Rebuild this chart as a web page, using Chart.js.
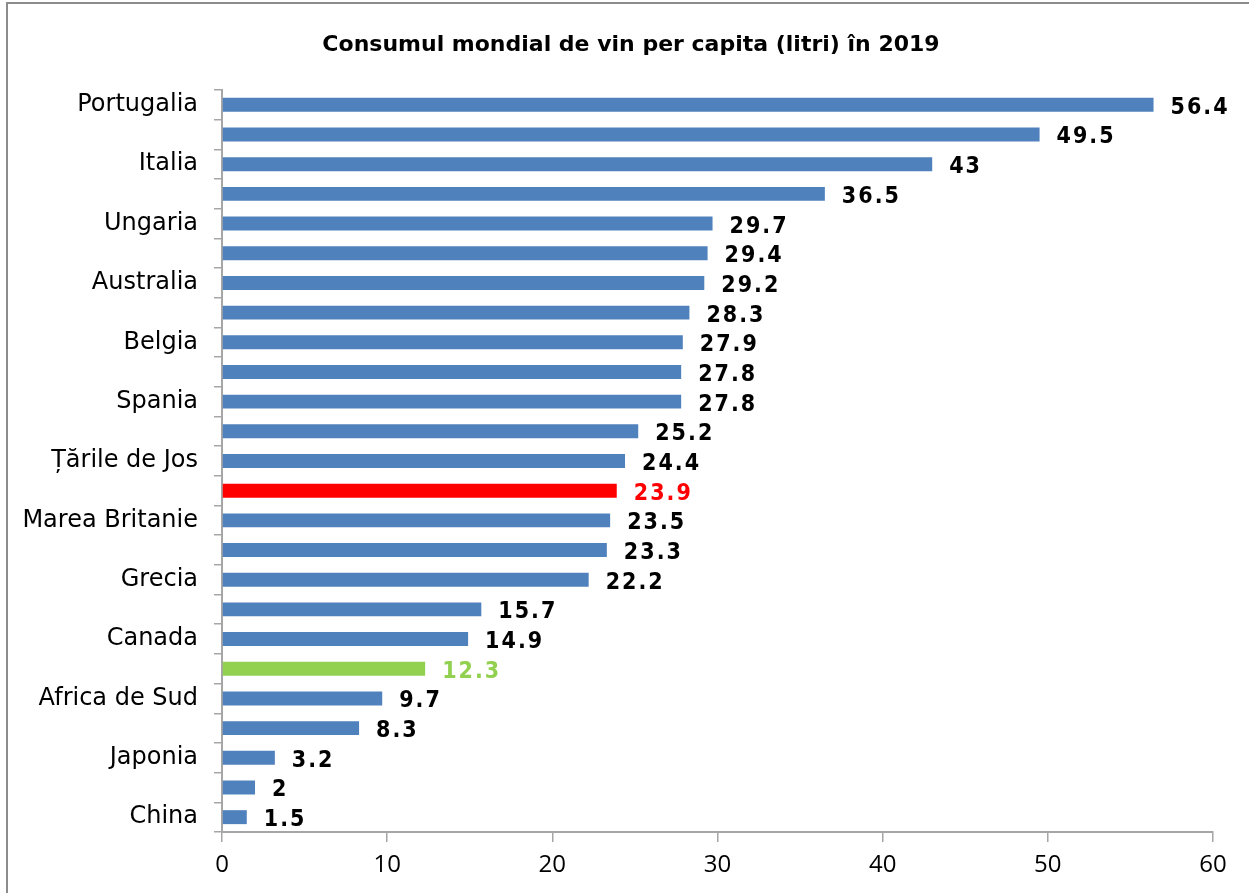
<!DOCTYPE html>
<html>
<head>
<meta charset="utf-8">
<script src="https://cdn.jsdelivr.net/npm/chart.js"></script>
<style>
html,body{margin:0;padding:0;background:#fff;}
#wrap{position:relative;width:1249px;height:893px;overflow:hidden;}
#frame{position:absolute;left:6px;top:2px;width:1300px;height:1000px;border-left:2px solid #8c8c8c;border-top:2px solid #8c8c8c;pointer-events:none;}
canvas{position:absolute;left:0;top:0;}
</style>
</head>
<body>
<div id="wrap">
<canvas id="c" width="1249" height="893"></canvas>
<div id="frame"></div>
</div>
<script>
const titleText = 'Consumul mondial de vin per capita (litri) în 2019';
const countries = ['Portugalia','Franța','Italia','Elveția','Ungaria','Austria','Australia','Germania','Belgia','Danemarca','Spania','Suedia','Țările de Jos','România','Marea Britanie','Argentina','Grecia','SUA','Canada','Republica Moldova','Africa de Sud','Rusia','Japonia','Brazilia','China'];
const values = [56.4,49.5,43,36.5,29.7,29.4,29.2,28.3,27.9,27.8,27.8,25.2,24.4,23.9,23.5,23.3,22.2,15.7,14.9,12.3,9.7,8.3,3.2,2,1.5];
const xTicks = [0,10,20,30,40,50,60];
const highlightRed = 'România';
const highlightGreen = 'Republica Moldova';

const barColors = countries.map(c => c === highlightRed ? '#FF0000' : (c === highlightGreen ? '#92D050' : '#4F81BD'));
const labelColors = countries.map(c => c === highlightRed ? '#FF0000' : (c === highlightGreen ? '#92D050' : '#000000'));

const valueLabels = {
  id: 'valueLabels',
  afterDatasetsDraw(chart) {
    const ctx = chart.ctx;
    const meta = chart.getDatasetMeta(0);
    const xs = chart.scales.x;
    ctx.save();
    ctx.font = 'bold 23px "DejaVu Sans Condensed"';
    try { ctx.letterSpacing = '2px'; } catch(e) {}
    ctx.textAlign = 'left';
    ctx.textBaseline = 'middle';
    meta.data.forEach((bar, i) => {
      const v = values[i];
      const x = xs.getPixelForValue(v) + 17;
      ctx.fillStyle = labelColors[i];
      ctx.fillText(String(v), x, bar.y + 3);
    });
    ctx.restore();
  }
};

const chartTitle = {
  id: 'chartTitle',
  afterDraw(chart) {
    const ctx = chart.ctx;
    ctx.save();
    ctx.font = 'bold 22px "DejaVu Sans"';
    ctx.fillStyle = '#000';
    ctx.textAlign = 'center';
    ctx.textBaseline = 'middle';
    ctx.fillText(titleText, 631, 45);
    ctx.restore();
  }
};

new Chart(document.getElementById('c'), {
  type: 'bar',
  data: {
    labels: countries,
    datasets: [{
      data: values,
      backgroundColor: barColors,
      borderWidth: 0,
      categoryPercentage: 1,
      barPercentage: 0.47
    }]
  },
  options: {
    indexAxis: 'y',
    responsive: false,
    animation: false,
    layout: { padding: { left: 0, right: 36, top: 90, bottom: 0 } },
    plugins: {
      legend: { display: false },
      tooltip: { enabled: false },
      title: { display: false }
    },
    scales: {
      x: {
        min: 0, max: 60,
        afterBuildTicks(scale) { scale.ticks = xTicks.map(v => ({ value: v })); },
        afterFit(scale) { scale.height = 61; },
        grid: { drawOnChartArea: false, tickLength: 10, color: '#A6A6A6', lineWidth: 1.5 },
        border: { color: '#A6A6A6', width: 2 },
        ticks: { color: '#000', font: { family: 'Open Sans', size: 24 }, padding: 9 }
      },
      y: {
        afterFit(scale) { scale.width = 222; },
        grid: { drawOnChartArea: false, tickLength: 8, color: '#A6A6A6', lineWidth: 1.5, offset: true },
        border: { color: '#A6A6A6', width: 2 },
        ticks: {
          autoSkip: false,
          color: '#000',
          font: { family: 'DejaVu Sans', size: 24 },
          padding: 16,
          callback(val, idx) { return idx % 2 === 0 ? countries[idx] : ''; }
        }
      }
    }
  },
  plugins: [valueLabels, chartTitle]
});
</script>
</body>
</html>
